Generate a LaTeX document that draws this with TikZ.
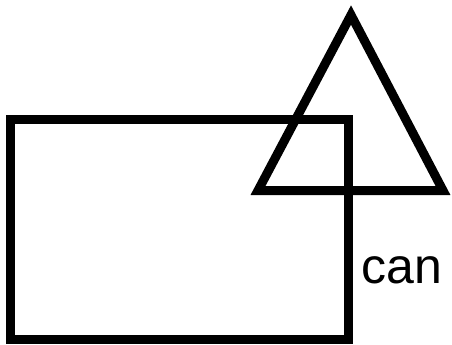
\documentclass[tikz,border=0pt]{standalone}
\usepackage{fontspec}
\setmainfont{Liberation Sans}
\begin{document}
\begin{tikzpicture}[x=1pt,y=-1pt]
\tikzset{outline/.style={draw=black,line width=9pt,line join=miter}}
   \useasboundingbox (0,0) rectangle (452,345);

   % rectangle corners
   \coordinate (R1) at (10.5,119.5);
   \coordinate (R2) at (348.5,339.5);

   % triangle corners
   \coordinate (T) at (351,15);
   \coordinate (L) at (258,190.5);
   \coordinate (K) at (443,190.5);

    \draw[outline] (R1) rectangle (R2);
    \draw[outline] (T) -- (L) -- (K) -- cycle;

   \node[anchor=base west,inner sep=0pt,font=\fontsize{50}{60}\selectfont] at (361,283) (can) {can};

\end{tikzpicture}
\end{document}
